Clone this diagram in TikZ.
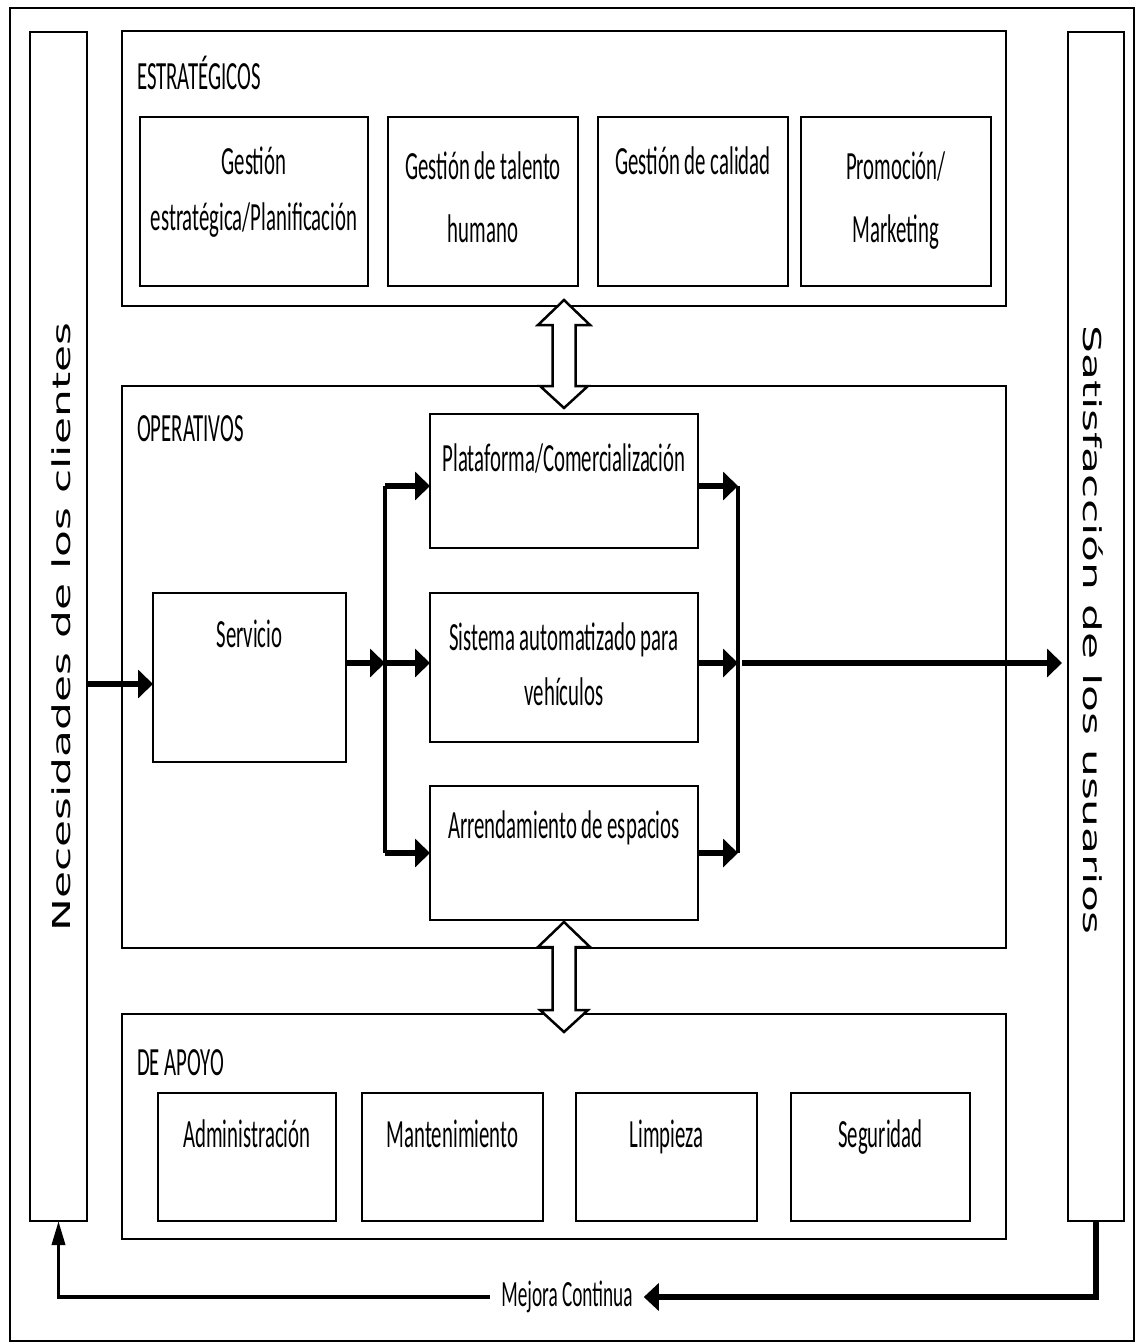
\documentclass[tikz,border=0pt]{standalone}
\usepackage{fontspec}
\setmainfont{Carlito}
\newfontfamily\boxfont[FakeStretch=0.52]{Carlito}
\newfontfamily\sidefont[FakeStretch=1.78]{DejaVu Sans}
\usetikzlibrary{arrows.meta,calc}

% rectangle node given by its corners (x1,y1) (x2,y2)
\newcommand\mkbox[5]{%
  \node[box, minimum width={(#4-#2)*1pt}, minimum height={(#5-#3)*1pt}]
    (#1) at ({(#2+#4)/2},{(#3+#5)/2}) {};}

% hollow two-headed arrow between a top tip and a bottom tip
\newcommand\twoway[2]{%
  \draw[twoway] let \p1=(#1), \p2=(#2) in
    (\x1,\y1) -- (\x1+26pt,\y1-25pt) -- (\x1+11.5pt,\y1-25pt)
    -- (\x1+11.5pt,\y2+22pt) -- (\x1+24pt,\y2+22pt) -- (\x1,\y2)
    -- (\x1-24pt,\y2+22pt) -- (\x1-11.5pt,\y2+22pt)
    -- (\x1-11.5pt,\y1-25pt) -- (\x1-26pt,\y1-25pt) -- cycle;}

\begin{document}
\begin{tikzpicture}[x=1pt,y=-1pt,
  box/.style={draw, line width=2.2pt, inner sep=0pt, outer sep=0pt, fill=white},
  txt/.style={font=\boxfont\fontsize{40}{48}\selectfont, inner sep=0pt, anchor=base},
  head/.style={txt, anchor=base west},
  side/.style={font=\sidefont\fontsize{24.7}{30}\selectfont, inner sep=0pt},
  flow/.style={line width=6pt, -{Triangle[length=15pt,width=28pt]}},
  rail/.style={line width=3.5pt},
  twoway/.style={draw, line width=2.5pt, fill=white, line join=miter},
  loopback/.style={line width=6pt, -{Triangle[length=15pt,width=27pt]}},
  loopup/.style={line width=3.5pt, -{Triangle[length=24pt,width=13pt]}}]

\useasboundingbox (0,0) rectangle (1136,1343);
\draw[line width=2pt] (10,8) rectangle (1134,1341);

% side bars
\mkbox{nec}{30}{32}{87}{1221}
\mkbox{sat}{1068}{32}{1124}{1221}
\node[side, rotate=90] at (61,627) {Necesidades de los clientes};
\node[side, rotate=-90] at (1093,630) {Satisfacción de los usuarios};

% strategic processes
\mkbox{estr}{122}{31}{1006}{306}
\node[head] at (137,90) {ESTRATÉGICOS};
\mkbox{g1}{140}{117}{368}{286}
\mkbox{g2}{388}{117}{578}{286}
\mkbox{g3}{598}{117}{788}{286}
\mkbox{g4}{801}{117}{991}{286}
\node[txt] at ($(g1.north)+(0,58)$) {Gestión};
\node[txt] at ($(g1.north)+(0,113)$) {estratégica/Planificación};
\node[txt] at ($(g2.north)+(0,62)$) {Gestión de talento};
\node[txt] at ($(g2.north)+(0,125)$) {humano};
\node[txt] at ($(g3.north)+(0,58)$) {Gestión de calidad};
\node[txt] at ($(g4.north)+(0,63)$) {Promoción/};
\node[txt] at ($(g4.north)+(0,125)$) {Marketing};

% operative processes
\mkbox{oper}{122}{386}{1006}{948}
\node[head] at (137,441) {OPERATIVOS};
\mkbox{serv}{153}{593}{346}{762}
\mkbox{plat}{430}{414}{698}{548}
\mkbox{sist}{430}{593}{698}{742}
\mkbox{arr}{430}{786}{698}{920}
\node[txt] at ($(serv.north)+(0,54)$) {Servicio};
\node[txt] at ($(plat.north)+(0,57)$) {Plataforma/Comercialización};
\node[txt] at ($(sist.north)+(0,57)$) {Sistema automatizado para};
\node[txt] at ($(sist.north)+(0,112)$) {vehículos};
\node[txt] at ($(arr.north)+(0,52)$) {Arrendamiento de espacios};

% support processes
\mkbox{apoyo}{122}{1014}{1006}{1239}
\node[head] at (137,1075) {DE APOYO};
\mkbox{a1}{158}{1093}{336}{1221}
\mkbox{a2}{362}{1093}{543}{1221}
\mkbox{a3}{576}{1093}{757}{1221}
\mkbox{a4}{791}{1093}{970}{1221}
\node[txt] at ($(a1.north)+(0,54)$) {Administración};
\node[txt] at ($(a2.north)+(0,54)$) {Mantenimiento};
\node[txt] at ($(a3.north)+(0,54)$) {Limpieza};
\node[txt] at ($(a4.north)+(0,54)$) {Seguridad};

% branching and merging points
\coordinate (lin) at (0,684);
\coordinate (ja) at (385,486);
\coordinate (jm) at (385,663);
\coordinate (jb) at (385,853);
\coordinate (ka) at (738,486);
\coordinate (km) at (738,663);
\coordinate (kb) at (738,853);

% flow through the operative processes
\draw[flow] (nec.east |- lin) -- (serv.west |- lin);
\draw[flow] (serv.east |- jm) -- (jm);
\draw[rail] (ja) -- (jb);
\draw[flow] (ja) -- (plat.west |- ja);
\draw[flow] (jm) -- (sist.west |- jm);
\draw[flow] (jb) -- (arr.west |- jb);
\draw[flow] (plat.east |- ka) -- (ka);
\draw[flow] (sist.east |- km) -- (km);
\draw[flow] (arr.east |- kb) -- (kb);
\draw[rail] (ka) -- (kb);
\draw[flow] ($(km)+(4,0)$) -- ($(sat.west |- km)+(-6,0)$);

% links between the process levels
\twoway{$(plat.north |- estr.south)+(0,-6)$}{$(plat.north)+(0,-6)$}
\twoway{$(arr.south)+(0,2)$}{$(arr.south |- apoyo.north)+(0,18)$}

% continuous improvement loop
\node[txt, anchor=center, inner xsep=11pt, font=\boxfont\fontsize{37}{44}\selectfont]
  (mej) at (567,1297) {Mejora Continua};
\draw[loopback] (sat.south) |- (mej.east);
\draw[loopup] (mej.west) -| (nec.south);

\end{tikzpicture}
\end{document}
